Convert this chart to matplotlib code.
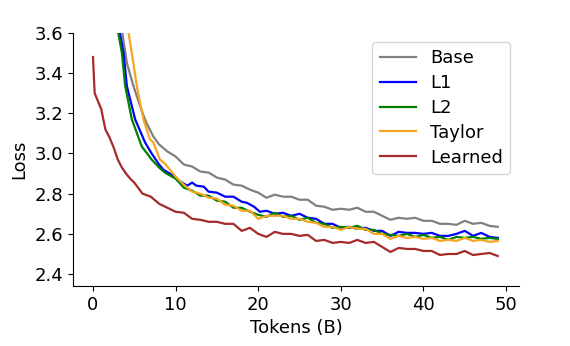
import numpy as np
from matplotlib import pyplot as plt

# loss curves (tokens in B)
base_x = [2.8, 3.55, 4.1, 4.9, 5.5, 6.1, 6.5, 7.3, 8, 9, 10, 11, 12, 13, 14, 15, 16, 17, 18, 19,
          20, 21, 22, 23, 24, 25, 26, 27, 28, 29, 30, 31, 32, 33, 34, 35, 36, 37, 38, 39,
          40, 41, 42, 43, 44, 45, 46, 47, 48, 49]
base_y = [4.0, 3.6, 3.45, 3.335, 3.26, 3.19, 3.15, 3.085, 3.045, 3.01, 2.985, 2.945, 2.935, 2.91, 2.905,
          2.88, 2.87, 2.845, 2.84, 2.82, 2.805, 2.78, 2.795, 2.785, 2.785, 2.77, 2.77, 2.74, 2.735,
          2.72, 2.725, 2.72, 2.73, 2.71, 2.71, 2.69, 2.67, 2.68, 2.675, 2.68, 2.665, 2.665,
          2.65, 2.65, 2.645, 2.665, 2.65, 2.655, 2.64, 2.635]

l1_x = [2.6, 3.25, 3.7, 4.1, 5.1, 6.3, 7.1, 8, 8.5, 9.5, 10.6, 11.4, 12, 12.5, 13.4, 14, 15, 16, 17, 18,
        18.6, 19.5, 20.2, 21, 22, 23, 24, 25, 26, 27, 28, 29, 30, 31, 32, 33, 34, 35, 36, 37,
        38, 39, 40, 41, 42, 43, 44, 45, 46, 47, 48, 49]
l1_y = [4.0, 3.6, 3.5, 3.335, 3.17, 3.055, 3.0, 2.945, 2.92, 2.895, 2.86, 2.84, 2.855, 2.84, 2.835,
        2.81, 2.805, 2.785, 2.785, 2.76, 2.755, 2.735, 2.71, 2.715, 2.7, 2.705, 2.69, 2.7, 2.68,
        2.675, 2.65, 2.65, 2.63, 2.635, 2.625, 2.63, 2.615, 2.615, 2.59, 2.61, 2.605, 2.605, 2.6,
        2.605, 2.59, 2.59, 2.6, 2.615, 2.59, 2.605, 2.585, 2.58]

l2_x = [2.5, 3.06, 3.5, 3.9, 4.7, 5.9, 7.1, 8, 8.7, 10, 11, 12, 13, 14, 15, 16, 17, 18, 19, 20,
        21, 22, 23, 24, 25, 26, 27, 28, 29, 30, 31, 32, 33, 34, 35, 36, 37, 38, 39, 40,
        41, 42, 43, 44, 45, 46, 47, 48, 49]
l2_y = [4.0, 3.6, 3.5, 3.335, 3.17, 3.035, 2.97, 2.93, 2.905, 2.875, 2.83, 2.815, 2.79, 2.79, 2.765,
        2.76, 2.73, 2.73, 2.71, 2.695, 2.685, 2.705, 2.685, 2.69, 2.67, 2.68, 2.655, 2.65,
        2.63, 2.635, 2.63, 2.64, 2.62, 2.62, 2.6, 2.595, 2.59, 2.6, 2.585, 2.595, 2.58,
        2.585, 2.57, 2.585, 2.58, 2.585, 2.575, 2.58, 2.575]

taylor_x = [3.7, 4.3, 4.7, 5.3, 6.1, 6.9, 7.3, 8.1, 8.7, 10, 11, 12, 13, 14, 15, 16, 17, 18, 19, 20,
            21, 22, 23, 24, 25, 26, 27, 28, 29, 30, 31, 32, 33, 34, 35, 36, 37, 38, 39, 40,
            41, 42, 43, 44, 45, 46, 47, 48, 49]
taylor_y = [4.0, 3.6, 3.5, 3.335, 3.17, 3.07, 3.055, 2.97, 2.95, 2.885, 2.845, 2.81, 2.8, 2.78,
            2.775, 2.745, 2.74, 2.715, 2.715, 2.675, 2.69, 2.69, 2.69, 2.675, 2.675, 2.66, 2.655, 2.635,
            2.635, 2.62, 2.635, 2.625, 2.625, 2.6, 2.6, 2.575, 2.59, 2.58, 2.585, 2.575, 2.58,
            2.565, 2.57, 2.565, 2.58, 2.565, 2.57, 2.56, 2.565]

learned_x = [0, 0.2, 0.5, 1, 1.5, 2, 2.5, 3, 3.5, 4, 4.5, 5, 6, 7, 8, 9, 10, 11, 12, 13, 14, 15, 16,
             17, 18, 19, 20, 21, 22, 23, 24, 25, 26, 27, 28, 29, 30, 31, 32, 33, 34, 35, 36, 37,
             38, 39, 40, 41, 42, 43, 44, 45, 46, 47, 48, 49]
learned_y = [3.48, 3.30, 3.27, 3.22, 3.12, 3.08, 3.03, 2.97, 2.93, 2.90, 2.875, 2.855, 2.80, 2.785,
             2.75, 2.73, 2.71, 2.705, 2.675, 2.67, 2.66, 2.66, 2.65, 2.65, 2.615, 2.63, 2.60,
             2.585, 2.61, 2.6, 2.6, 2.59, 2.595, 2.565, 2.57, 2.555, 2.56, 2.555, 2.57, 2.555,
             2.56, 2.535, 2.51, 2.53, 2.525, 2.525, 2.515, 2.515, 2.495, 2.5, 2.5, 2.515, 2.495,
             2.5, 2.505, 2.49]

series = [
    ("Base", base_x, base_y, "grey"),
    ("L1", l1_x, l1_y, "blue"),
    ("L2", l2_x, l2_y, "green"),
    ("Taylor", taylor_x, taylor_y, "#f5a623"),
    ("Learned", learned_x, learned_y, "brown"),
]

fig = plt.figure(figsize=(5.7, 3.46), dpi=100)
ax = fig.add_axes([0.1275, 0.173, 0.7835, 0.732])

for name, xs, ys, c in series:
    ax.plot(xs, ys, color=c, lw=1.6, label=name)

ax.set_xlim(-2.46, 51.6)
ax.set_ylim(2.34, 3.6)
ax.set_xticks([0, 10, 20, 30, 40, 50])
ax.set_yticks([2.4, 2.6, 2.8, 3.0, 3.2, 3.4, 3.6])
ax.tick_params(labelsize=13)
ax.set_xlabel("Tokens (B)", fontsize=13)
ax.set_ylabel("Loss", fontsize=13)
ax.spines["top"].set_visible(False)
ax.spines["right"].set_visible(False)
ax.legend(loc="upper right", fontsize=13, labelspacing=0.38)

fig.savefig("out.png", dpi=100)
